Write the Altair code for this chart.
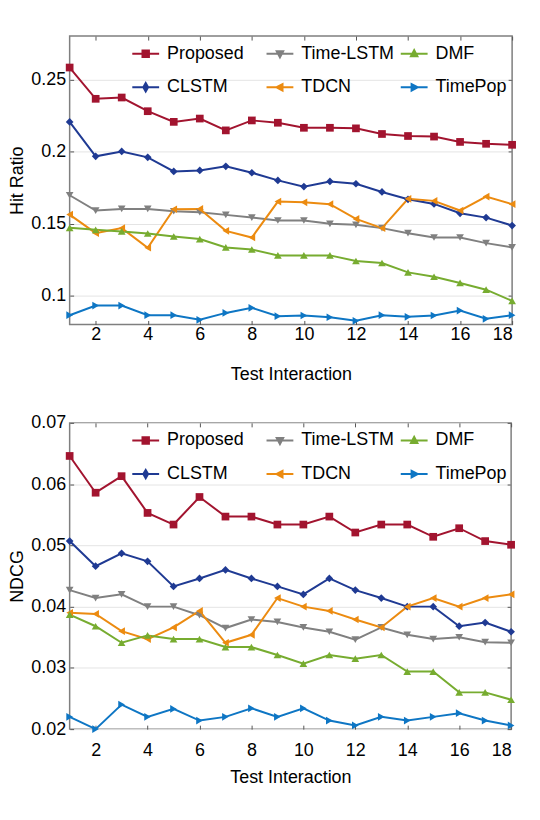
import altair as alt
import pandas as pd

x_vals = list(range(1, 19))
# order chosen so that the 3-column legend reads row by row as in the figure
series = ["Proposed", "CLSTM", "Time-LSTM", "TDCN", "DMF", "TimePop"]
colors = ["#A2142F", "#1F3A93", "#808080", "#EC8B10", "#77AC30", "#0E76C4"]
shapes = ["square", "diamond", "triangle-down", "triangle-left", "triangle-up", "triangle-right"]

# Hit Ratio
hr_proposed = [0.2582, 0.2365, 0.2374, 0.2279, 0.2205, 0.2228, 0.2146, 0.2215, 0.2199, 0.2164, 0.2164, 0.2160, 0.2121, 0.2107, 0.2103, 0.2066, 0.2053, 0.2046]
hr_clstm = [0.2205, 0.1966, 0.2000, 0.1959, 0.1861, 0.1868, 0.1897, 0.1852, 0.1799, 0.1756, 0.1792, 0.1776, 0.1719, 0.1668, 0.1636, 0.1571, 0.1541, 0.1486]
hr_timelstm = [0.1696, 0.1590, 0.1601, 0.1601, 0.1585, 0.1578, 0.1560, 0.1541, 0.1521, 0.1521, 0.1498, 0.1491, 0.1468, 0.1433, 0.1403, 0.1403, 0.1364, 0.1334]
hr_tdcn = [0.1562, 0.1433, 0.1468, 0.1332, 0.1599, 0.1601, 0.1449, 0.1403, 0.1652, 0.1647, 0.1634, 0.1532, 0.1468, 0.1671, 0.1657, 0.1590, 0.1687, 0.1634]
hr_dmf = [0.1470, 0.1456, 0.1445, 0.1431, 0.1410, 0.1392, 0.1334, 0.1320, 0.1279, 0.1279, 0.1279, 0.1240, 0.1226, 0.1161, 0.1131, 0.1088, 0.1041, 0.0963]
hr_timepop = [0.0864, 0.0931, 0.0931, 0.0864, 0.0864, 0.0832, 0.0880, 0.0915, 0.0857, 0.0862, 0.0850, 0.0825, 0.0864, 0.0853, 0.0862, 0.0896, 0.0839, 0.0864]

# NDCG
nd_proposed = [0.0646, 0.0586, 0.0613, 0.0553, 0.0534, 0.0579, 0.0547, 0.0547, 0.0534, 0.0534, 0.0547, 0.0521, 0.0534, 0.0534, 0.0514, 0.0528, 0.0507, 0.0501]
nd_clstm = [0.0507, 0.0466, 0.0487, 0.0474, 0.0433, 0.0446, 0.0460, 0.0446, 0.0433, 0.0420, 0.0446, 0.0427, 0.0414, 0.0400, 0.0400, 0.0368, 0.0374, 0.0359]
nd_timelstm = [0.0427, 0.0414, 0.0420, 0.0400, 0.0400, 0.0386, 0.0365, 0.0379, 0.0375, 0.0366, 0.0359, 0.0346, 0.0366, 0.0354, 0.0347, 0.0350, 0.0342, 0.0341]
nd_tdcn = [0.0390, 0.0388, 0.0360, 0.0347, 0.0366, 0.0393, 0.0341, 0.0354, 0.0414, 0.0400, 0.0393, 0.0379, 0.0366, 0.0400, 0.0414, 0.0400, 0.0414, 0.0420]
nd_dmf = [0.0387, 0.0368, 0.0341, 0.0353, 0.0347, 0.0347, 0.0334, 0.0334, 0.0321, 0.0307, 0.0321, 0.0315, 0.0321, 0.0294, 0.0294, 0.0260, 0.0260, 0.0248]
nd_timepop = [0.0220, 0.0200, 0.0240, 0.0220, 0.0233, 0.0214, 0.0220, 0.0234, 0.0220, 0.0234, 0.0214, 0.0206, 0.0220, 0.0214, 0.0220, 0.0226, 0.0214, 0.0206]

x_ticks = [2, 4, 6, 8, 10, 12, 14, 16, 18]
hr_ticks = [0.1, 0.15, 0.2, 0.25]
nd_ticks = [0.02, 0.03, 0.04, 0.05, 0.06, 0.07]

FONT = "Liberation Sans"


def long_df(cols):
    rows = []
    for name, vals in zip(series, cols):
        for xv, v in zip(x_vals, vals):
            rows.append({"x": xv, "v": v, "s": name})
    return pd.DataFrame(rows)


hr_df = long_df([hr_proposed, hr_clstm, hr_timelstm, hr_tdcn, hr_dmf, hr_timepop])
nd_df = long_df([nd_proposed, nd_clstm, nd_timelstm, nd_tdcn, nd_dmf, nd_timepop])

# legend glyphs: a line segment with the series marker in the middle
m = 0.24
legend_paths = [
    f"M-1,0H1M-{m},-{m}H{m}V{m}H-{m}Z",
    f"M-1,0H1M0,-{m*1.3}L{m*0.75},0L0,{m*1.3}L-{m*0.75},0Z",
    f"M-1,0H1M-{m},-{m*0.8}L{m},-{m*0.8}L0,{m*1.1}Z",
    f"M-1,0H1M{m*0.8},-{m}L{m*0.8},{m}L-{m*1.1},0Z",
    f"M-1,0H1M-{m},{m*0.8}L{m},{m*0.8}L0,-{m*1.1}Z",
    f"M-1,0H1M-{m*0.8},-{m}L-{m*0.8},{m}L{m*1.1},0Z",
]


def make_legend():
    return alt.Legend(
        title=None, orient="none", legendX=62, legendY=3, columns=3,
        gridAlign="all", columnPadding=2, rowPadding=10, symbolSize=729,
        labelOffset=7, labelFontSize=18, labelFont=FONT, labelColor="black",
        padding=0, symbolStrokeWidth=2, symbolOpacity=1,
    )


def panel(df, ydomain, yticks, ytitle, width, height, x_label_pad, x_title_pad):
    xs = alt.Scale(domain=[1, 18], nice=False, zero=False)
    ys = alt.Scale(domain=ydomain, nice=False, zero=False)
    cs = alt.Scale(domain=series, range=colors)
    ls = alt.Scale(domain=series, range=legend_paths)
    base = alt.Chart(df)
    lines = base.mark_line(strokeWidth=2).encode(
        x=alt.X("x:Q", scale=xs, axis=alt.Axis(
            values=x_ticks, orient="bottom", offset=-4, tickSize=4, domain=False,
            grid=False, labelPadding=x_label_pad, title="Test Interaction",
            titlePadding=x_title_pad, tickColor="#555555")),
        y=alt.Y("v:Q", scale=ys, axis=alt.Axis(
            values=yticks, orient="left", offset=-4, tickSize=4, domain=False,
            grid=True, gridColor="#e4e4e4", gridWidth=1, format="~g",
            labelPadding=4, title=ytitle, titlePadding=4, tickColor="#555555")),
        color=alt.Color("s:N", scale=cs, legend=make_legend()),
        order=alt.Order("x:Q"),
    )
    frame = base.mark_point(opacity=0).encode(
        x=alt.X("x:Q", scale=xs, axis=alt.Axis(
            values=x_ticks, orient="top", offset=-4, tickSize=4, domain=False,
            grid=False, labels=False, title=None, tickColor="#555555")),
        y=alt.Y("v:Q", scale=ys, axis=alt.Axis(
            values=yticks, orient="right", offset=-4, tickSize=4, domain=False,
            grid=False, labels=False, title=None, tickColor="#555555")),
    )
    pts = []
    for name, col, shp in zip(series, colors, shapes):
        pts.append(
            base.mark_point(filled=True, size=60, opacity=1, shape=shp, color=col)
            .encode(x=alt.X("x:Q", scale=xs, axis=None),
                    y=alt.Y("v:Q", scale=ys, axis=None))
            .transform_filter(alt.datum.s == name)
        )
    leg = base.mark_point(filled=True, size=729, strokeWidth=2).encode(
        x=alt.X("x:Q", scale=xs, axis=None),
        y=alt.Y("v:Q", scale=ys, axis=None),
        color=alt.Color("s:N", scale=cs, legend=make_legend()),
        stroke=alt.Stroke("s:N", scale=cs, legend=make_legend()),
        shape=alt.Shape("s:N", scale=ls, legend=make_legend()),
        opacity=alt.value(0),
    )
    return alt.layer(lines, frame, *pts, leg).resolve_axis(
        x="independent", y="independent"
    ).properties(width=width, height=height)


top = panel(hr_df, [0.08, 0.28], hr_ticks, "Hit Ratio", 445, 290, 1, 22)
bottom = panel(nd_df, [0.02, 0.07], nd_ticks, "NDCG", 444, 308, 13, 9)

chart = alt.vconcat(top, bottom, spacing=29).resolve_scale(
    x="independent", y="independent", color="independent", shape="independent",
    stroke="independent"
).properties(
    padding={"top": 24, "left": 0, "right": 5, "bottom": 5}
).configure(
    font=FONT,
).configure_axis(
    labelFont=FONT, titleFont=FONT, labelFontSize=18, titleFontSize=18,
    titleFontWeight="normal", labelColor="black", titleColor="black",
).configure_view(
    stroke="#7f7f7f", strokeWidth=1.5,
)

chart.save("out.html", embed_options={"renderer": "svg", "actions": False})
